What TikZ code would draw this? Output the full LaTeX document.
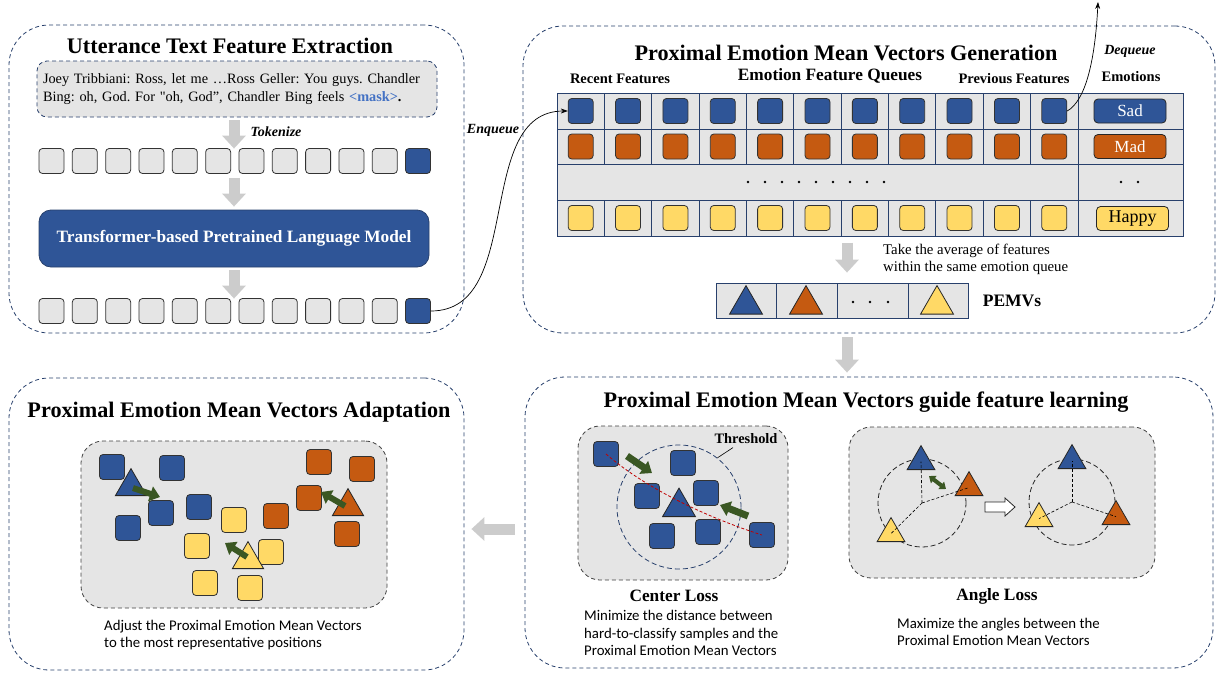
\documentclass[tikz,border=0pt]{standalone}
\usepackage{fontspec}
\setmainfont{Liberation Serif}
\newfontfamily\rawserif{Liberation Serif}[Ligatures=TeXOff]
\newfontfamily\notefont{Carlito}
\usepackage{tikz}
\usetikzlibrary{positioning,arrows.meta,shapes.geometric,calc}
\definecolor{featblue}{RGB}{47,85,151}
\definecolor{featorange}{RGB}{197,90,17}
\definecolor{featyellow}{RGB}{255,217,102}
\definecolor{framenavy}{RGB}{40,64,108}
\definecolor{pushgreen}{RGB}{58,87,35}
\definecolor{maskblue}{RGB}{68,114,196}
\definecolor{lossred}{RGB}{192,0,0}
\colorlet{cellgray}{black!10}
\colorlet{flowgray}{black!20}
\tikzset{
  panel/.style={draw=framenavy, dash pattern=on 4pt off 3pt, line width=0.8pt, rounded corners=40pt},
  sandbox/.style={draw=black!75, dash pattern=on 4pt off 3pt, fill=cellgray, line width=0.8pt, rounded corners=22pt},
  tok/.style={draw=black!80, fill=cellgray, line width=0.8pt, rounded corners=3.5pt, minimum size=25pt, inner sep=0pt},
  feat/.style={tok, fill=#1},
  tri/.style={regular polygon, regular polygon sides=3, draw=black!85, line width=0.8pt, fill=#1, inner sep=0pt, minimum size=38pt, anchor=south},
  cellline/.style={framenavy, line width=0.8pt},
  flow/.style={line width=11pt, flowgray, -{Triangle[width=23pt,length=13pt]}},
  push/.style={line width=7pt, pushgreen, -{Triangle[width=15pt,length=10pt]}},
  paneltitle/.style={font=\bfseries\fontsize{22.2}{26}\selectfont},
  colhead/.style={font=\bfseries\fontsize{14.5}{17}\selectfont},
  emo/.style={draw=black!85, line width=0.8pt, rounded corners=4pt, minimum width=72pt, minimum height=24pt, inner sep=0pt, fill=#1, font=\fontsize{17}{20}\selectfont},
  notetext/.style={font=\notefont\fontsize{14.8}{17.5}\selectfont, align=left, anchor=west, inner xsep=0pt},
  losslabel/.style={font=\bfseries\fontsize{17.3}{20}\selectfont},
}
\begin{document}
\begin{tikzpicture}[x=1pt,y=-1pt]
  \useasboundingbox (0,0) rectangle (1221,675);
  % the four panels
  \node[panel, minimum width=455pt, minimum height=308pt] (extract) at (236.5,179) {};
  \node[panel, minimum width=692pt, minimum height=307pt] (gen) at (869,179.5) {};
  \node[panel, minimum width=688pt, minimum height=291pt] (guide) at (869,522.5) {};
  \node[panel, minimum width=455pt, minimum height=292pt] (adapt) at (236.5,524) {};
  \node[paneltitle] (t-extract) at (230,46) {Utterance Text Feature Extraction};
  \node[paneltitle] (t-gen) at (846,53) {Proximal Emotion Mean Vectors Generation};
  \node[paneltitle] (t-guide) at (866,402) {Proximal Emotion Mean Vectors guide feature learning};
  \node[paneltitle] (t-adapt) at (239,412) {Proximal Emotion Mean Vectors Adaptation};

  % utterance text feature extraction
  \node[draw=framenavy, dash pattern=on 4pt off 3pt, fill=cellgray, line width=0.8pt, rounded corners=10pt,
        minimum height=56pt, text width=388pt, inner xsep=6pt, align=left,
        font=\rawserif\frenchspacing\fontsize{14.3}{18}\selectfont] (utter) at (237,89)
        {Joey Tribbiani: Ross, let me …Ross Geller: You guys. Chandler\\Bing: oh, God. For "oh, God”, Chandler Bing feels {\color{maskblue}\bfseries <mask>}{\bfseries .}};
  \foreach \i in {0,...,10} {
    \node[tok] (tokA\i) at (51.5+33.33*\i,161) {};
    \node[tok] (tokB\i) at (51.5+33.33*\i,311) {};
  }
  \node[feat=featblue] (tokA11) at (418,161) {};
  \node[feat=featblue] (tokB11) at (418,311) {};
  \node[fill=featblue, draw=framenavy, line width=0.8pt, rounded corners=12pt, minimum width=390pt, minimum height=57pt,
        text=white, font=\bfseries\fontsize{17.3}{20}\selectfont] (plm) at (234,238.5) {Transformer-based Pretrained Language Model};
  \draw[flow] ($(plm.north |- utter.south)+(0,3)$) -- ($(plm.north |- tokA0.north)+(0,0.5)$);
  \draw[flow] ($(plm.north |- tokA0.south)+(0,4)$) -- ($(plm.north)+(0,-3)$);
  \draw[flow] ($(plm.south)+(0,3)$) -- ($(plm.north |- tokB0.north)+(0,0.5)$);
  \node[font=\bfseries\itshape\fontsize{14}{16}\selectfont] (tokenize) at (276,132) {Tokenize};

  % emotion feature queues
  \fill[cellgray] (557,93) rectangle (1183,236);
  \draw[cellline] (557,93) rectangle (1183,236);
  \foreach \y in {129,164,200} \draw[cellline] (557,\y) -- (1183,\y);
  \foreach \k in {1,...,10} {
    \draw[cellline] (557+47.36*\k,93) -- (557+47.36*\k,164);
    \draw[cellline] (557+47.36*\k,200) -- (557+47.36*\k,236);
  }
  \draw[cellline] (1078,93) -- (1078,236);
  \foreach \k in {0,...,10} {
    \node[feat=featblue] (qa\k) at (580.7+47.36*\k,111) {};
    \node[feat=featorange] (qb\k) at (580.7+47.36*\k,146.5) {};
    \node[feat=featyellow] (qc\k) at (580.7+47.36*\k,218) {};
  }
  \foreach \i in {0,...,8} \fill (748+17*\i,182) circle[radius=1.3pt];
  \fill (1121,182) circle[radius=1.3pt] (1138,182) circle[radius=1.3pt];
  \node[emo=featblue, text=white] (sad) at (1130,111) {Sad};
  \node[emo=featorange, text=white] (mad) at (1130,146.5) {Mad};
  \node[emo=featyellow, font=\fontsize{18}{20}\selectfont] (happy) at (1132.5,218.5) {Happy};
  \node[colhead] (recent) at (620,79) {Recent Features};
  \node[colhead, font=\bfseries\fontsize{17.3}{20}\selectfont] (queues) at (830,76) {Emotion Feature Queues};
  \node[colhead] (previous) at (1014,79) {Previous Features};
  \node[colhead] (emohead) at (1131,77) {Emotions};

  % enqueue / dequeue
  \draw[-{Stealth[length=7pt,width=5pt]}, line width=0.7pt] (tokB11.east) .. controls +(95,0) and +(-95,0) .. (qa0.west);
  \node[font=\bfseries\itshape\fontsize{14}{16}\selectfont] (enq) at (493,130) {Enqueue};
  \coordinate (deqend) at (1098,2);
  \draw[-{Stealth[length=7pt,width=5pt]}, line width=0.7pt] (qa10.east) .. controls +(18,-10) and +(-3,60) .. (deqend);
  \node[font=\bfseries\itshape\fontsize{14}{16}\selectfont] (deq) at (1130,51) {Dequeue};

  % PEMVs
  \node[draw=framenavy, fill=cellgray, line width=0.8pt, minimum width=252pt, minimum height=35pt, inner sep=0pt] (pemv) at (842,300.5) {};
  \foreach \x in {776,837,908} \draw[cellline] (\x,283) -- (\x,318);
  \node[tri=featblue] (pemvB) at (746,314.5) {};
  \node[tri=featorange] (pemvO) at (806,314.5) {};
  \node[tri=featyellow] (pemvY) at (937,314.5) {};
  \foreach \x in {853,870,888} \fill (\x,302) circle[radius=1.3pt];
  \node[font=\bfseries\fontsize{17.5}{20}\selectfont] (pemvlab) at (1012,301) {PEMVs};
  \draw[flow] ($(pemv.north)+(5,-40)$) -- ($(pemv.north)+(5,-10)$);
  \node[font=\fontsize{14.8}{17}\selectfont, align=left, anchor=west, inner xsep=0pt] (avg) at (883,259.5) {Take the average of features\\within the same emotion queue};

  % links between panels
  \draw[flow] ($(gen.south)+(-22,4)$) -- ($(guide.north)+(-22,-4)$);
  \draw[flow] ($(guide.west)+(-10,6.5)$) -- ($(adapt.east)+(7,5)$);

  % center loss
  \node[sandbox, minimum width=210pt, minimum height=154pt] (centerbox) at (683,503) {};
  \node[circle, draw=framenavy, dash pattern=on 5pt off 3pt, line width=0.8pt, minimum size=124pt] (thresh) at (679,507) {};
  \foreach \n/\x/\y in {c1/606/454, c2/683/463, c3/647/496, c4/706/493, c5/662/536, c6/708/532, c7/762/535}
    \node[feat=featblue] (\n) at (\x,\y) {};
  \node[tri=featblue] (ctri) at (679,517) {};
  \draw[lossred, dash pattern=on 3pt off 2pt, line width=0.8pt] (c1.center) .. controls (650,492) and (715,520) .. (c7.center);
  \draw[push] (627,456) -- (652,473);
  \draw[push] (748,516) -- (720,505);
  \node[font=\bfseries\fontsize{14.4}{16}\selectfont] (thrlab) at (746,439) {Threshold};
  \draw[line width=0.6pt] ($(thrlab.south)+(-13,0)$) -- (thresh.52);
  \node[losslabel] (clab) at (674,596) {Center Loss};
  \node[notetext] (cdesc) at (584,633) {Minimize the distance between\\hard-to-classify samples and the\\Proximal Emotion Mean Vectors};

  % angle loss
  \node[sandbox, minimum width=306pt, minimum height=151pt] (anglebox) at (1002,502.5) {};
  \node[circle, draw=black!85, dash pattern=on 5pt off 3pt, line width=0.8pt, minimum size=88pt] (ringA) at (922,503) {};
  \node[circle, draw=black!85, dash pattern=on 5pt off 3pt, line width=0.8pt, minimum size=86pt] (ringB) at (1072,502) {};
  \node[tri=featblue, minimum size=32pt] (aB) at (921,470) {};
  \node[tri=featorange, minimum size=32pt] (aO) at (969,496) {};
  \node[tri=featyellow, minimum size=32pt] (aY) at (891,542) {};
  \node[tri=featblue, minimum size=32pt] (bB) at (1072,469) {};
  \node[tri=featorange, minimum size=32pt] (bO) at (1116,525) {};
  \node[tri=featyellow, minimum size=32pt] (bY) at (1039,527) {};
  \foreach \t in {aB,aO,aY} \draw[dash pattern=on 3pt off 2pt, line width=0.6pt] (ringA.center) -- (\t.center);
  \foreach \t in {bB,bO,bY} \draw[dash pattern=on 3pt off 2pt, line width=0.6pt] (ringB.center) -- (\t.center);
  \draw[pushgreen, line width=4pt, {Triangle[width=9pt,length=6pt]}-{Triangle[width=9pt,length=6pt]}] (929,476) -- (946,489);
  \draw[draw=black!85, fill=white, line width=0.8pt] (985,502) -- (1005,502) -- (1005,498) -- (1015,507) -- (1005,516) -- (1005,512) -- (985,512) -- cycle;
  \node[losslabel] (alab) at (997,596) {Angle Loss};
  \node[notetext] (adesc) at (897,632) {Maximize the angles between the\\Proximal Emotion Mean Vectors};

  % adaptation
  \node[sandbox, minimum width=306pt, minimum height=167pt] (mapbox) at (234,524.5) {};
  \foreach \n/\x/\y in {m1/112/467, m2/172/468, m3/161/513, m4/128/528, m5/199/507}
    \node[feat=featblue] (\n) at (\x,\y) {};
  \foreach \n/\x/\y in {m6/234/520, m7/197/546, m8/271/552, m9/205/583, m10/250/588}
    \node[feat=featyellow] (\n) at (\x,\y) {};
  \foreach \n/\x/\y in {m11/319/462, m12/362/469, m13/309/498, m14/276/516, m15/347/534}
    \node[feat=featorange] (\n) at (\x,\y) {};
  \node[tri=featblue, minimum size=36pt] (mB) at (131,496) {};
  \node[tri=featyellow, minimum size=36pt] (mY) at (248,569) {};
  \node[tri=featorange, minimum size=36pt] (mO) at (348,516) {};
  \draw[push, line width=6pt] (133,488) -- (160,497);
  \draw[push, line width=6pt] (247,557) -- (225,543);
  \draw[push, line width=6pt] (345,506) -- (321,492);
  \node[notetext] (mdesc) at (104,635) {Adjust the Proximal Emotion Mean Vectors\\to the most representative positions};
\end{tikzpicture}
\end{document}
